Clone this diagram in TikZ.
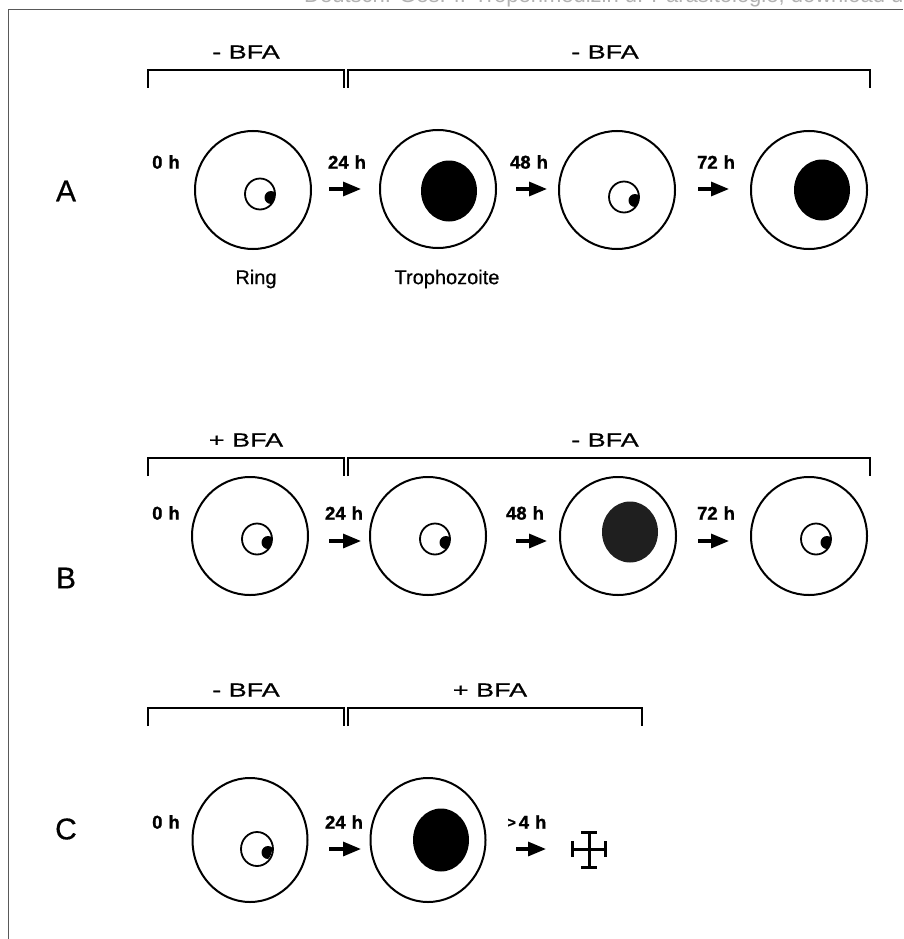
\documentclass[tikz,border=0pt]{standalone}
\usepackage{fontspec}
\setmainfont{Liberation Sans}
\newfontfamily\widefont[FakeStretch=1.42,FakeBold=0.6]{Liberation Sans}
\newfontfamily\heavyfont[FakeBold=1.2]{Liberation Sans Bold}
\newfontfamily\plainheavy[FakeBold=0.5]{Liberation Sans}
\usetikzlibrary{arrows.meta,shapes.geometric}
% small ring-stage parasite: ring with its nucleus pressed to the inner edge
\newcommand\ringstage[3]{%
  \node[#2] (#1) at #3 {};
  \begin{scope}
    \clip (#1.center) circle (15pt);
    \fill ([shift={(11,3.5)}]#1.center) circle (6.5);
  \end{scope}}
% hour mark with a generous gap before the unit
\newcommand\hrs[1]{#1\hspace{6pt}h}
\begin{document}
\begin{tikzpicture}[x=1pt,y=-1pt,
  cell/.style={ellipse,draw,line width=2pt,inner sep=0pt,minimum width=116pt,minimum height=118pt},
  tallcell/.style={cell,minimum width=115pt,minimum height=124pt},
  ringbody/.style={ellipse,draw,line width=1.8pt,inner sep=0pt,minimum width=30pt,minimum height=31pt},
  tallring/.style={ringbody,minimum height=34pt,minimum width=32pt},
  troph/.style={ellipse,fill=black,inner sep=0pt,minimum width=56pt,minimum height=61pt},
  timelabel/.style={font=\fontsize{18.5}{20}\heavyfont,inner sep=0pt},
  druglabel/.style={font=\fontsize{19}{21}\widefont,inner sep=0pt},
  rowlabel/.style={font=\fontsize{30}{32}\plainheavy,inner sep=0pt},
  stagelabel/.style={font=\fontsize{20}{22}\plainheavy,inner sep=0pt},
  bracketline/.style={line width=1.8pt},
  stagearrow/.style={line width=3.2pt,-{Triangle[length=18pt,width=14pt]}},
  deathmark/.style={line width=3pt}]
\useasboundingbox (0,0) rectangle (903,939);
\clip (0,0) rectangle (903,939);

% page frame and running header
\draw[gray!70!black,line width=0.9pt] (8,939) -- (8,9) -- (903,9);
\node[anchor=base west,inner sep=0pt,text=gray!60,font=\fontsize{22}{24}\selectfont] (hdr) at (304,2.5)
  {Deutsch. Ges. f. Tropenmedizin u. Parasitologie; download unter};

% row labels
\node[rowlabel] (lA) at (66,191) {A};
\node[rowlabel] (lB) at (66,578) {B};
\node[rowlabel] (lC) at (66,829) {C};

% ---------------- row A ----------------
\node[druglabel] (dA1) at (246,52) {- BFA};
\node[druglabel] (dA2) at (605,52) {- BFA};
\draw[bracketline] (148,88) -- (148,70) -- (344,70) -- (344,88);
\draw[bracketline] (348,88) -- (348,70) -- (870,70) -- (870,88);

\node[cell] (a1) at (253,190) {};
\node[cell] (a2) at (438,189) {};
\node[cell] (a3) at (617,190) {};
\node[cell] (a4) at (809,190) {};
\ringstage{a1r}{ringbody}{(260,194)}
\node[troph] (a2t) at (449,191) {};
\ringstage{a3r}{ringbody}{(624,197)}
\node[troph] (a4t) at (822,190) {};

\node[timelabel] (tA0) at (166,162) {\hrs{0}};
\node[timelabel] (tA1) at (347,162) {\hrs{24}};
\node[timelabel] (tA2) at (529,162) {\hrs{48}};
\node[timelabel] (tA3) at (716,162) {\hrs{72}};
\coordinate (aA1s) at (329,189); \coordinate (aA1e) at (361,189);
\coordinate (aA2s) at (516,189); \coordinate (aA2e) at (547,189);
\coordinate (aA3s) at (698,189); \coordinate (aA3e) at (729,189);
\draw[stagearrow] (aA1s) -- (aA1e);
\draw[stagearrow] (aA2s) -- (aA2e);
\draw[stagearrow] (aA3s) -- (aA3e);

\node[stagelabel] (ring) at (256,279) {Ring};
\node[stagelabel] (troz) at (447,279) {Trophozoite};

% ---------------- row B ----------------
\node[druglabel] (dB1) at (246,440) {+ BFA};
\node[druglabel] (dB2) at (605,440) {- BFA};
\draw[bracketline] (148,476) -- (148,458) -- (344,458) -- (344,476);
\draw[bracketline] (348,476) -- (348,458) -- (870,458) -- (870,476);

\node[cell] (b1) at (250,536) {};
\node[cell] (b2) at (428,536) {};
\node[cell] (b3) at (618,536) {};
\node[cell] (b4) at (809,536) {};
\ringstage{b1r}{ringbody}{(257,539)}
\ringstage{b2r}{ringbody}{(435,539)}
\node[troph,fill=black!88] (b3t) at (630,532) {};
\ringstage{b4r}{ringbody}{(816,539)}

\node[timelabel] (tB0) at (166,513) {\hrs{0}};
\node[timelabel] (tB1) at (344,513) {\hrs{24}};
\node[timelabel] (tB2) at (525,513) {\hrs{48}};
\node[timelabel] (tB3) at (716,513) {\hrs{72}};
\coordinate (aB1s) at (329,541); \coordinate (aB1e) at (361,541);
\coordinate (aB2s) at (516,541); \coordinate (aB2e) at (547,541);
\coordinate (aB3s) at (698,541); \coordinate (aB3e) at (729,541);
\draw[stagearrow] (aB1s) -- (aB1e);
\draw[stagearrow] (aB2s) -- (aB2e);
\draw[stagearrow] (aB3s) -- (aB3e);

% ---------------- row C ----------------
\node[druglabel] (dC1) at (246,690) {- BFA};
\node[druglabel] (dC2) at (490,690) {+ BFA};
\draw[bracketline] (148,726) -- (148,708) -- (344,708) -- (344,726);
\draw[bracketline] (348,726) -- (348,708) -- (642,708) -- (642,726);

\node[tallcell] (c1) at (250,840) {};
\node[tallcell] (c2) at (428,840) {};
\ringstage{c1r}{tallring}{(257,849)}
\node[troph,minimum height=63pt] (c2t) at (441,840) {};

\node[timelabel] (tC0) at (166,822) {\hrs{0}};
\node[timelabel] (tC1) at (344,822) {\hrs{24}};
\node[timelabel] (tC2) at (527,822) {\raisebox{1.5pt}{\fontsize{14}{14}\selectfont\mdseries>}\hspace{3pt}\hrs{4}};
\coordinate (aC1s) at (329,849); \coordinate (aC1e) at (361,849);
\coordinate (aC2s) at (516,849); \coordinate (aC2e) at (546,849);
\draw[stagearrow] (aC1s) -- (aC1e);
\draw[stagearrow] (aC2s) -- (aC2e);

% death mark
\coordinate (dx) at (589,849);
\draw[deathmark] ([shift={(0,-17)}]dx) -- ([shift={(0,18)}]dx)
                 ([shift={(-17,0)}]dx) -- ([shift={(16,0)}]dx);
\draw[deathmark] ([shift={(-8,-17)}]dx) -- ([shift={(8,-17)}]dx)
                 ([shift={(-8,18)}]dx) -- ([shift={(8,18)}]dx)
                 ([shift={(-17,-8)}]dx) -- ([shift={(-17,8)}]dx)
                 ([shift={(16,-8)}]dx) -- ([shift={(16,8)}]dx);
\end{tikzpicture}
\end{document}
